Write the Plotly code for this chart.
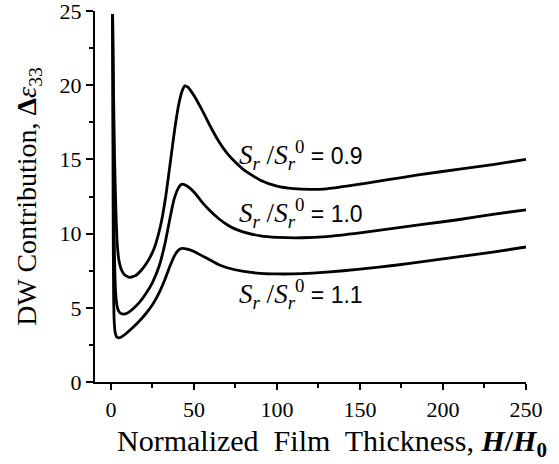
import plotly.graph_objects as go

# Curve S_r/S_r^0 = 0.9
x09 = [1.0, 1.5, 2.2, 3.0, 3.8, 4.8, 6.2, 8.0, 11.0, 14.5, 18, 22, 26, 30, 33, 36, 38.5, 41, 43, 44.5, 46.5, 50, 55, 60, 65, 70, 75, 80, 90, 100, 110, 120, 130, 145, 165, 185, 210, 230, 250]
y09 = [24.8, 20, 15, 11.5, 9.3, 8.2, 7.6, 7.25, 7.05, 7.15, 7.5, 8.1, 9.0, 10.6, 12.5, 15.0, 17.1, 18.8, 19.65, 19.95, 19.85, 19.3, 18.3, 17.2, 16.2, 15.4, 14.8, 14.3, 13.6, 13.2, 13.03, 12.98, 13.02, 13.25, 13.6, 13.95, 14.35, 14.65, 15.0]

# Curve S_r/S_r^0 = 1.0
x10 = [1.0, 1.4, 1.9, 2.5, 3.2, 4.2, 5.5, 7.5, 10, 13, 17, 21, 25, 29, 32.5, 35.5, 38, 40.5, 42.5, 45, 50, 55, 60, 65, 70, 75, 80, 90, 100, 115, 130, 150, 170, 190, 210, 230, 250]
y10 = [24.8, 17, 10, 6.8, 5.5, 4.9, 4.65, 4.58, 4.65, 4.9, 5.35, 5.95, 6.7, 7.8, 9.3, 11.0, 12.3, 13.05, 13.32, 13.25, 12.8, 12.1, 11.5, 11.0, 10.6, 10.3, 10.1, 9.85, 9.75, 9.72, 9.8, 10.05, 10.35, 10.65, 10.95, 11.3, 11.6]

# Curve S_r/S_r^0 = 1.1
x11 = [1.0, 1.3, 1.6, 2.0, 2.6, 3.4, 4.6, 6.5, 9, 12.5, 17, 21, 25, 29, 32.5, 35.5, 38.5, 41, 43, 46, 50, 55, 60, 65, 70, 80, 90, 100, 115, 130, 150, 170, 190, 210, 230, 250]
y11 = [24.8, 12, 6.0, 4.0, 3.3, 3.05, 2.98, 3.05, 3.25, 3.6, 4.1, 4.6, 5.2, 6.0, 6.9, 7.8, 8.55, 8.92, 9.0, 8.95, 8.8, 8.5, 8.2, 7.9, 7.7, 7.45, 7.32, 7.28, 7.3, 7.4, 7.6, 7.85, 8.15, 8.45, 8.75, 9.1]

labels = ["0.9", "1.0", "1.1"]
label_y = [15.3, 11.4, 5.9]

x_ticks = [0, 50, 100, 150, 200, 250]
y_ticks = [0, 5, 10, 15, 20, 25]

serif = "Times New Roman, Liberation Serif, serif"

fig = go.Figure()
for xs, ys in [(x09, y09), (x10, y10), (x11, y11)]:
    fig.add_trace(go.Scatter(x=xs, y=ys, mode="lines",
                             line=dict(color="black", width=2.8, shape="spline", smoothing=0.5),
                             showlegend=False, hoverinfo="skip"))

for lab, ly in zip(labels, label_y):
    txt = ('<span style="font-family:Times New Roman;font-size:27px">'
           '<i>S<sub>r</sub></i> /<i>S<sub>r</sub></i><sup>0</sup></span> = ' + lab)
    fig.add_annotation(x=76.0, y=ly, xref="x", yref="y", text=txt, showarrow=False,
                       xanchor="left", yanchor="middle",
                       font=dict(family="Arial, Liberation Sans, sans-serif", size=23, color="black"))

# x-axis title (placed as annotation, offset as in the original)
fig.add_annotation(x=0.55, y=-0.165, xref="paper", yref="paper", showarrow=False,
                   xanchor="center", yanchor="middle",
                   text='Normalized  Film  Thickness, <b><i>H</i>/<i>H</i><sub>0</sub></b>',
                   font=dict(family=serif, size=30, color="black"))

fig.update_layout(
    width=559, height=464,
    margin=dict(l=95, r=33, t=11, b=82),
    paper_bgcolor="white", plot_bgcolor="white",
    font=dict(family=serif, color="black"),
    xaxis=dict(range=[-9.6, 250], tickvals=x_ticks, ticktext=[str(v) for v in x_ticks],
               automargin=False,
               showline=True, linecolor="black", linewidth=2, showgrid=False, zeroline=False,
               ticks="outside", ticklen=6, tickwidth=2, tickcolor="black",
               ticklabelstandoff=1,
               minor=dict(dtick=25, tick0=0, ticks="outside", ticklen=4, tickwidth=1.5, tickcolor="black", showgrid=False),
               tickfont=dict(family=serif, size=22, color="black")),
    yaxis=dict(range=[0, 25], tickvals=y_ticks, ticktext=[str(v) for v in y_ticks],
               automargin=False, ticklabeloverflow="allow",
               showline=True, linecolor="black", linewidth=2, showgrid=False, zeroline=False,
               ticks="outside", ticklen=7, tickwidth=2, tickcolor="black",
               minor=dict(dtick=2.5, tick0=0, ticks="outside", ticklen=4, tickwidth=1.5, tickcolor="black", showgrid=False),
               tickfont=dict(family=serif, size=22, color="black"),
               title=dict(text='DW Contribution, <b>Δ</b><i>ε</i><sub>33</sub>',
                          font=dict(family=serif, size=28, color="black"), standoff=15)),
)

fig.write_html("out.html", config={"displayModeBar": False},
               post_script="document.body.style.margin='0';")
